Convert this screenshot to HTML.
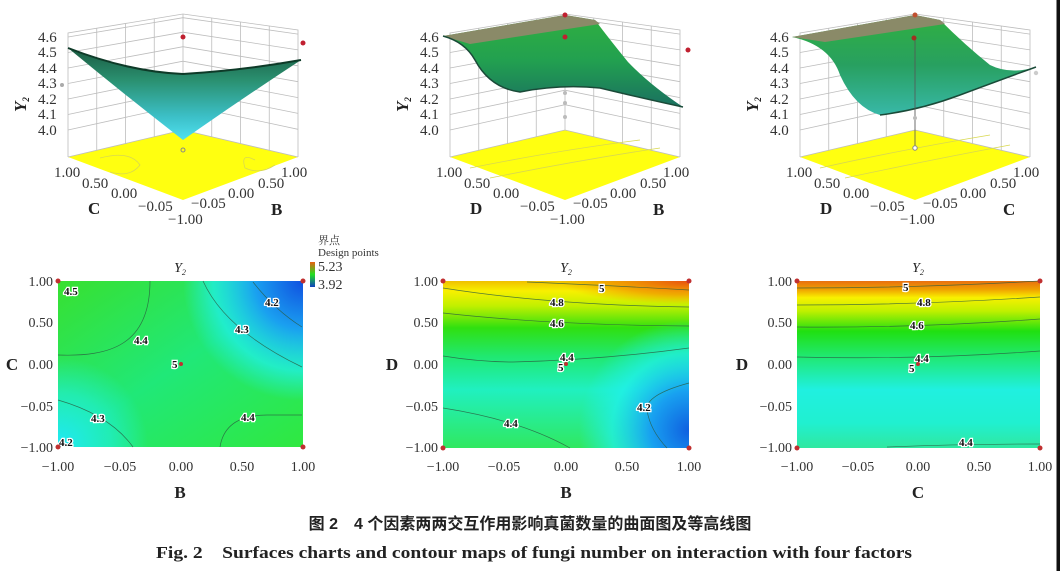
<!DOCTYPE html>
<html><head><meta charset="utf-8"><style>
html,body{margin:0;padding:0;background:#fff;width:1060px;height:571px;overflow:hidden}
svg{display:block}
.t{font-family:"Liberation Serif",serif;font-size:14px;fill:#333}
.t3{font-family:"Liberation Serif",serif;font-size:15px;fill:#333}
.ax{font-family:"Liberation Serif",serif;font-size:17px;font-weight:bold;fill:#222}
.cl{font-family:"Liberation Serif",serif;font-size:11px;font-weight:bold;fill:#111;paint-order:stroke;stroke:#fff;stroke-width:2.5px}
.g{stroke:#bdbdbd;stroke-width:.8;fill:none}
.c{stroke:#2a5a40;stroke-width:.7;fill:none;opacity:.8}
</style></head><body>
<svg width="1060" height="571" viewBox="0 0 1060 571" xmlns="http://www.w3.org/2000/svg">
<defs>
<linearGradient id="s1" x1="0" y1="0" x2="0" y2="1"><stop offset="0" stop-color="#1a5a40"/><stop offset=".35" stop-color="#2a9070"/><stop offset=".75" stop-color="#3cc0c8"/><stop offset="1" stop-color="#50e0f0"/></linearGradient>
<linearGradient id="s2" x1="0" y1="0" x2="0" y2="1"><stop offset="0" stop-color="#30b040"/><stop offset=".5" stop-color="#22a050"/><stop offset="1" stop-color="#1a7060"/></linearGradient>
<linearGradient id="s3" x1="0" y1="0" x2="0" y2="1"><stop offset="0" stop-color="#30b040"/><stop offset=".5" stop-color="#28a060"/><stop offset="1" stop-color="#38b8a8"/></linearGradient>
<linearGradient id="c1" x1="0" y1="0" x2="1" y2="1"><stop offset="0" stop-color="#38e030"/><stop offset=".5" stop-color="#20e878"/><stop offset="1" stop-color="#30e840"/></linearGradient>
<radialGradient id="c1b" cx="303" cy="281" r="120" gradientUnits="userSpaceOnUse"><stop offset="0" stop-color="#1050e0"/><stop offset=".4" stop-color="#1aa0f0"/><stop offset=".75" stop-color="#20f0f0" stop-opacity=".7"/><stop offset="1" stop-color="#20f0f0" stop-opacity="0"/></radialGradient>
<radialGradient id="c1c" cx="58" cy="447" r="90" gradientUnits="userSpaceOnUse"><stop offset="0" stop-color="#20e8f8"/><stop offset=".6" stop-color="#20f0e0" stop-opacity=".6"/><stop offset="1" stop-color="#20f0e0" stop-opacity="0"/></radialGradient>
<linearGradient id="c2" x1="0" y1="281" x2="0" y2="448" gradientUnits="userSpaceOnUse"><stop offset="0" stop-color="#f0c000"/><stop offset=".06" stop-color="#f8f000"/><stop offset=".15" stop-color="#c0f000"/><stop offset=".28" stop-color="#30e010"/><stop offset=".45" stop-color="#20e870"/><stop offset=".65" stop-color="#20f0c0"/><stop offset="1" stop-color="#30e860"/></linearGradient>
<radialGradient id="c2o" cx="689" cy="281" r="130" gradientTransform="translate(689 281) scale(1 .18) translate(-689 -281)" gradientUnits="userSpaceOnUse"><stop offset="0" stop-color="#e85010"/><stop offset=".6" stop-color="#f09000" stop-opacity=".7"/><stop offset="1" stop-color="#f0a000" stop-opacity="0"/></radialGradient>
<radialGradient id="c2b" cx="689" cy="430" r="110" gradientUnits="userSpaceOnUse"><stop offset="0" stop-color="#1060e0"/><stop offset=".35" stop-color="#18a0f0"/><stop offset=".7" stop-color="#20f0f0" stop-opacity=".7"/><stop offset="1" stop-color="#20f0f0" stop-opacity="0"/></radialGradient>
<linearGradient id="c3" x1="0" y1="281" x2="0" y2="448" gradientUnits="userSpaceOnUse"><stop offset="0" stop-color="#e87010"/><stop offset=".05" stop-color="#f0a000"/><stop offset=".1" stop-color="#f8f000"/><stop offset=".18" stop-color="#c0f000"/><stop offset=".3" stop-color="#20e010"/><stop offset=".45" stop-color="#20e870"/><stop offset=".65" stop-color="#20f0e0"/><stop offset=".85" stop-color="#20f0d0"/><stop offset="1" stop-color="#30e8a0"/></linearGradient>
<linearGradient id="cb" x1="0" y1="0" x2="0" y2="1"><stop offset="0" stop-color="#e86010"/><stop offset=".5" stop-color="#20e020"/><stop offset="1" stop-color="#1040c0"/></linearGradient>
</defs>

<g id="box">
<polygon points="68,157 183,130 298,157 183,200" fill="#ffff10"/>
<polyline class="g" points="68,157 68,33 183,14 298,30 298,157"/>
<polyline class="g" points="183,130 183,14"/>
<polyline class="g" points="68,157 183,130 298,157"/>
<polyline class="g" points="68,130 183,104.7 298,129.3"/>
<polyline class="g" points="68,114.5 183,90.2 298,113.4"/>
<polyline class="g" points="68,99 183,75.7 298,97.6"/>
<polyline class="g" points="68,83.5 183,61.2 298,81.7"/>
<polyline class="g" points="68,68 183,46.7 298,65.8"/>
<polyline class="g" points="68,52.5 183,32.2 298,49.9"/>
<polyline class="g" points="68,37 183,17.7 298,34.1"/>
<line class="g" x1="96.75" y1="150.25" x2="96.75" y2="28.25"/>
<line class="g" x1="125.5" y1="143.5" x2="125.5" y2="23.5"/>
<line class="g" x1="154.25" y1="136.75" x2="154.25" y2="18.75"/>
<line class="g" x1="211.75" y1="136.75" x2="211.75" y2="18"/>
<line class="g" x1="240.5" y1="143.5" x2="240.5" y2="22"/>
<line class="g" x1="269.25" y1="150.25" x2="269.25" y2="26"/>
<g class="t3">
<text x="38" y="42">4.6</text><text x="38" y="57">4.5</text><text x="38" y="73">4.4</text><text x="38" y="88">4.3</text><text x="38" y="104">4.2</text><text x="38" y="119">4.1</text><text x="38" y="135">4.0</text>
<text x="54" y="177">1.00</text><text x="82" y="188">0.50</text><text x="111" y="198">0.00</text><text x="138" y="211">−0.05</text><text x="168" y="224">−1.00</text>
<text x="281" y="177">1.00</text><text x="258" y="188">0.50</text><text x="228" y="198">0.00</text><text x="191" y="208">−0.05</text>
</g>
<text class="ax" transform="translate(26 112) rotate(-90)" font-style="italic" font-size="15">Y<tspan font-size="9" dy="3">2</tspan></text>
</g>
<use href="#box" transform="translate(382 0)"/>
<use href="#box" transform="translate(732 0)"/>

<path d="M100,158 Q130,150 140,165 Q130,178 110,172" fill="none" stroke="#d8d850" stroke-width=".8"/>
<path d="M255,160 Q240,152 245,168 Q260,175 275,165" fill="none" stroke="#d8d850" stroke-width=".8"/>
<path d="M470,168 Q560,150 640,140" fill="none" stroke="#d8d850" stroke-width=".8"/>
<path d="M490,178 Q580,160 660,148" fill="none" stroke="#d8d850" stroke-width=".8"/>
<path d="M820,168 Q900,150 990,135" fill="none" stroke="#d8d850" stroke-width=".8"/>
<path d="M845,178 Q930,160 1010,145" fill="none" stroke="#d8d850" stroke-width=".8"/>

<text class="ax" x="88" y="214">C</text><text class="ax" x="271" y="215">B</text>
<text class="ax" x="470" y="214">D</text><text class="ax" x="653" y="215">B</text>
<text class="ax" x="820" y="214">D</text><text class="ax" x="1003" y="215">C</text>

<path d="M68,48 Q130,72 183,74 Q245,70 301,60 Q240,100 183,140 Q125,95 68,48Z" fill="url(#s1)"/>
<path d="M68,48 Q130,72 183,74 Q245,70 301,60" fill="none" stroke="#0e3a28" stroke-width="2"/>
<circle cx="183" cy="37" r="2.5" fill="#c02030"/><circle cx="303" cy="43" r="2.5" fill="#c02030"/>
<circle cx="183" cy="150" r="2" fill="none" stroke="#888"/><circle cx="62" cy="85" r="2" fill="#aaa"/>

<path d="M443,36 L565,15 L595,20 Q610,40 628,62 Q650,85 683,107 Q650,100 600,88 Q560,84 520,92 Q490,88 475,60 Q465,42 443,36Z" fill="url(#s2)"/>
<path d="M443,36 L565,15 L595,20 L600,24 L470,44Z" fill="#8a8a68"/>
<path d="M443,36 Q465,42 475,60 Q490,88 520,92 Q560,84 600,88 Q650,100 683,107" fill="none" stroke="#1a4a38" stroke-width="1.5"/>
<circle cx="565" cy="15" r="2.5" fill="#c02030"/><circle cx="565" cy="37" r="2.5" fill="#c02030"/><circle cx="688" cy="50" r="2.5" fill="#c02030"/>
<circle cx="565" cy="93" r="2" fill="#bbb"/><circle cx="565" cy="103" r="2" fill="#bbb"/><circle cx="565" cy="117" r="2" fill="#bbb"/>

<path d="M792,37 L915,15 L940,20 Q965,45 990,65 Q1010,75 1036,67 Q990,85 960,95 Q920,110 880,115 Q855,108 840,75 Q830,45 792,37Z" fill="url(#s3)"/>
<path d="M792,37 L915,15 L940,20 L945,24 L825,42Z" fill="#8a8a68"/>
<path d="M880,115 Q920,110 960,95 Q1000,80 1036,67" fill="none" stroke="#1a4a38" stroke-width="1.5"/>
<line x1="915" y1="38" x2="915" y2="148" stroke="#555" stroke-width=".8"/>
<circle cx="915" cy="15" r="2.5" fill="#c05030"/><circle cx="914" cy="38" r="2.5" fill="#a03020"/>
<circle cx="915" cy="118" r="2" fill="#bbb"/><circle cx="915" cy="148" r="2.2" fill="#fff" stroke="#888"/><circle cx="1036" cy="73" r="2.2" fill="#ccc"/>

<rect x="58" y="281" width="245" height="166" fill="url(#c1)"/>
<rect x="58" y="281" width="245" height="166" fill="url(#c1b)"/>
<rect x="58" y="281" width="245" height="166" fill="url(#c1c)"/>
<path class="c" d="M58,355 C110,357 150,345 150,281"/>
<path class="c" d="M203,281 Q225,330 302,367"/>
<path class="c" d="M253,282 Q275,310 302,327"/>
<path class="c" d="M58,400 Q110,415 133,447"/>
<path class="c" d="M220,447 Q225,415 267,415 L302,415"/>
<g class="cl"><text x="64" y="295">4.5</text><text x="134" y="344">4.4</text><text x="235" y="333">4.3</text><text x="265" y="306">4.2</text><text x="172" y="368">5</text><text x="91" y="422">4.3</text><text x="241" y="421">4.4</text><text x="59" y="446">4.2</text></g>

<rect x="443" y="281" width="246" height="167" fill="url(#c2)"/>
<rect x="443" y="281" width="246" height="167" fill="url(#c2o)"/>
<rect x="443" y="281" width="246" height="167" fill="url(#c2b)"/>
<path class="c" d="M527,282 Q600,285 689,290"/>
<path class="c" d="M443,288 Q550,305 689,307"/>
<path class="c" d="M443,313 Q550,325 689,326"/>
<path class="c" d="M443,356 Q480,362 513,362 Q600,360 689,348"/>
<path class="c" d="M689,383 Q645,395 647,410 Q650,430 667,448"/>
<path class="c" d="M443,408 Q520,420 570,448"/>
<g class="cl"><text x="599" y="292">5</text><text x="550" y="306">4.8</text><text x="550" y="327">4.6</text><text x="560" y="361">4.4</text><text x="558" y="371">5</text><text x="637" y="411">4.2</text><text x="504" y="427">4.4</text></g>

<rect x="797" y="281" width="243" height="167" fill="url(#c3)"/>
<path class="c" d="M797,288 Q920,288 1040,281"/>
<path class="c" d="M797,305 Q920,305 1040,297"/>
<path class="c" d="M797,327 Q920,328 1040,319"/>
<path class="c" d="M797,357 Q920,360 1040,351"/>
<path class="c" d="M887,447 Q960,444 1040,444"/>
<g class="cl"><text x="903" y="291">5</text><text x="917" y="306">4.8</text><text x="910" y="329">4.6</text><text x="915" y="362">4.4</text><text x="909" y="372">5</text><text x="959" y="446">4.4</text></g>

<g fill="#c03030">
<circle cx="58" cy="281" r="2.5"/><circle cx="303" cy="281" r="2.5"/><circle cx="58" cy="447" r="2.5"/><circle cx="303" cy="447" r="2.5"/><circle cx="181" cy="364" r="2"/>
<circle cx="443" cy="281" r="2.5"/><circle cx="689" cy="281" r="2.5"/><circle cx="443" cy="448" r="2.5"/><circle cx="689" cy="448" r="2.5"/><circle cx="566" cy="364" r="2"/>
<circle cx="797" cy="281" r="2.5"/><circle cx="1040" cy="281" r="2.5"/><circle cx="797" cy="448" r="2.5"/><circle cx="1040" cy="448" r="2.5"/><circle cx="918" cy="364" r="2"/>
</g>

<g class="t" text-anchor="end">
<text x="53" y="286">1.00</text><text x="53" y="327">0.50</text><text x="53" y="369">0.00</text><text x="53" y="411">−0.05</text><text x="53" y="452">−1.00</text>
<text x="438" y="286">1.00</text><text x="438" y="327">0.50</text><text x="438" y="369">0.00</text><text x="438" y="411">−0.05</text><text x="438" y="452">−1.00</text>
<text x="792" y="286">1.00</text><text x="792" y="327">0.50</text><text x="792" y="369">0.00</text><text x="792" y="411">−0.05</text><text x="792" y="452">−1.00</text>
</g>
<g class="t" text-anchor="middle">
<text x="58" y="471">−1.00</text><text x="120" y="471">−0.05</text><text x="181" y="471">0.00</text><text x="242" y="471">0.50</text><text x="303" y="471">1.00</text>
<text x="443" y="471">−1.00</text><text x="504" y="471">−0.05</text><text x="566" y="471">0.00</text><text x="627" y="471">0.50</text><text x="689" y="471">1.00</text>
<text x="797" y="471">−1.00</text><text x="858" y="471">−0.05</text><text x="918" y="471">0.00</text><text x="979" y="471">0.50</text><text x="1040" y="471">1.00</text>
</g>
<g class="ax" text-anchor="middle">
<text x="12" y="370">C</text><text x="180" y="498">B</text>
<text x="392" y="370">D</text><text x="566" y="498">B</text>
<text x="742" y="370">D</text><text x="918" y="498">C</text>
</g>
<g font-family="Liberation Serif,serif" font-style="italic" font-size="14" fill="#222" text-anchor="middle">
<text x="180" y="272">Y<tspan font-size="8" dy="3">2</tspan></text>
<text x="566" y="272">Y<tspan font-size="8" dy="3">2</tspan></text>
<text x="918" y="272">Y<tspan font-size="8" dy="3">2</tspan></text>
</g>

<text x="318" y="244" font-family="'Liberation Serif','Noto Serif CJK SC',serif" font-size="11" fill="#333">界点</text>
<text x="318" y="256" font-family="Liberation Serif,serif" font-size="11" fill="#333">Design points</text>
<rect x="310" y="262" width="5" height="25" fill="url(#cb)"/>
<text x="318" y="271" class="t" font-size="12">5.23</text>
<text x="318" y="289" class="t" font-size="12">3.92</text>

<text x="530" y="529" text-anchor="middle" font-family="'Liberation Sans','Noto Sans CJK SC',sans-serif" font-size="16" font-weight="bold" fill="#222">图 2　4 个因素两两交互作用影响真菌数量的曲面图及等高线图</text>
<text x="156" y="558" textLength="756" lengthAdjust="spacingAndGlyphs" font-family="'Liberation Serif',serif" font-size="17" font-weight="bold" fill="#222">Fig. 2　Surfaces charts and contour maps of fungi number on interaction with four factors</text>

<rect x="1056.5" y="0" width="3.5" height="571" fill="#111"/>
</svg>
</body></html>
